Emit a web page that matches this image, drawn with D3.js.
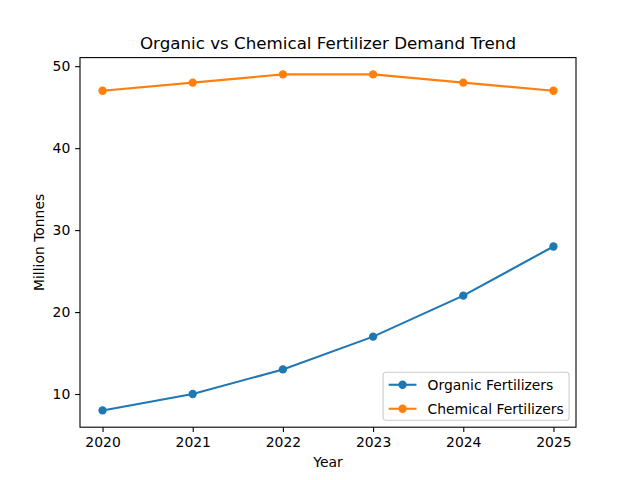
<!DOCTYPE html>
<html>
<head>
<meta charset="utf-8">
<script src="https://cdn.jsdelivr.net/npm/d3@7"></script>
<style>
  body { margin: 0; background: #fff; }
  text { font-family: "DejaVu Sans", sans-serif; fill: #000; }
</style>
</head>
<body>
<div id="chart"></div>
<script>
// data
const years = [2020, 2021, 2022, 2023, 2024, 2025];
const organic = [8, 10, 13, 17, 22, 28];
const chemical = [47, 48, 49, 49, 48, 47];
const seriesNames = ["Organic Fertilizers", "Chemical Fertilizers"];
const seriesColors = ["#1f77b4", "#ff7f0e"];
const yTicks = [10, 20, 30, 40, 50];

const W = 640, H = 480;
const margin = { left: 80, right: 64, top: 57.6, bottom: 52.8 };
const iw = W - margin.left - margin.right;
const ih = H - margin.top - margin.bottom;

const svg = d3.select("#chart").append("svg")
  .attr("width", W).attr("height", H);

const g = svg.append("g").attr("transform", `translate(${margin.left},${margin.top})`);

// matplotlib style 5% padding on both axes
const xPad = (d3.max(years) - d3.min(years)) * 0.05;
const x = d3.scaleLinear()
  .domain([d3.min(years) - xPad, d3.max(years) + xPad])
  .range([0, iw]);

const allVals = organic.concat(chemical);
const yPad = (d3.max(allVals) - d3.min(allVals)) * 0.05;
const y = d3.scaleLinear()
  .domain([d3.min(allVals) - yPad, d3.max(allVals) + yPad])
  .range([ih, 0]);

// axes
const xAxis = g.append("g").attr("transform", `translate(0,${ih})`)
  .call(d3.axisBottom(x).tickValues(years).tickFormat(d3.format("d")).tickSizeInner(4.86).tickSizeOuter(0).tickPadding(4.86));
const yAxis = g.append("g")
  .call(d3.axisLeft(y).tickValues(yTicks).tickFormat(d3.format("d")).tickSizeInner(4.86).tickSizeOuter(0).tickPadding(4.86));

[xAxis, yAxis].forEach(a => {
  a.select(".domain").remove();
  a.selectAll(".tick line").attr("stroke", "#000").attr("stroke-width", 1.1);
  a.selectAll(".tick text").attr("font-size", "13.9px").attr("font-family", "DejaVu Sans");
});

// spines
g.append("rect")
  .attr("x", 0).attr("y", 0).attr("width", iw).attr("height", ih)
  .attr("fill", "none").attr("stroke", "#000").attr("stroke-width", 1.1);

// lines and markers
const line = d3.line().x(d => x(d[0])).y(d => y(d[1]));
[organic, chemical].forEach((vals, i) => {
  const pts = years.map((yr, j) => [yr, vals[j]]);
  g.append("path").datum(pts)
    .attr("d", line)
    .attr("fill", "none")
    .attr("stroke", seriesColors[i])
    .attr("stroke-width", 2.08);
  g.selectAll(null).data(pts).enter().append("circle")
    .attr("cx", d => x(d[0])).attr("cy", d => y(d[1]))
    .attr("r", 4.17)
    .attr("fill", seriesColors[i]);
});

// title and axis labels
svg.append("text")
  .attr("x", margin.left + iw / 2).attr("y", margin.top - 8.3)
  .attr("text-anchor", "middle").attr("font-size", "16.7px")
  .text("Organic vs Chemical Fertilizer Demand Trend");

svg.append("text")
  .attr("x", margin.left + iw / 2).attr("y", 467)
  .attr("text-anchor", "middle").attr("font-size", "13.9px")
  .text("Year");

svg.append("text")
  .attr("transform", `translate(44,${margin.top + ih / 2}) rotate(-90)`)
  .attr("text-anchor", "middle").attr("font-size", "13.9px")
  .text("Million Tonnes");

// legend, lower right
const legW = 186, legH = 48;
const legX = iw - 6.94 - legW, legY = ih - 6.94 - legH;
const leg = g.append("g").attr("transform", `translate(${legX},${legY})`);
leg.append("rect")
  .attr("width", legW).attr("height", legH).attr("rx", 2.8)
  .attr("fill", "#fff").attr("fill-opacity", 0.8)
  .attr("stroke", "#cccccc").attr("stroke-width", 1.1);
seriesNames.forEach((name, i) => {
  const cy = 12.5 + i * 24;
  leg.append("line")
    .attr("x1", 5.6).attr("x2", 5.6 + 27.8).attr("y1", cy).attr("y2", cy)
    .attr("stroke", seriesColors[i]).attr("stroke-width", 2.08);
  leg.append("circle")
    .attr("cx", 5.6 + 13.9).attr("cy", cy).attr("r", 4.17)
    .attr("fill", seriesColors[i]);
  leg.append("text")
    .attr("x", 5.6 + 27.8 + 11.1).attr("y", cy).attr("dy", "0.35em")
    .attr("font-size", "13.9px")
    .text(name);
});
</script>
</body>
</html>
